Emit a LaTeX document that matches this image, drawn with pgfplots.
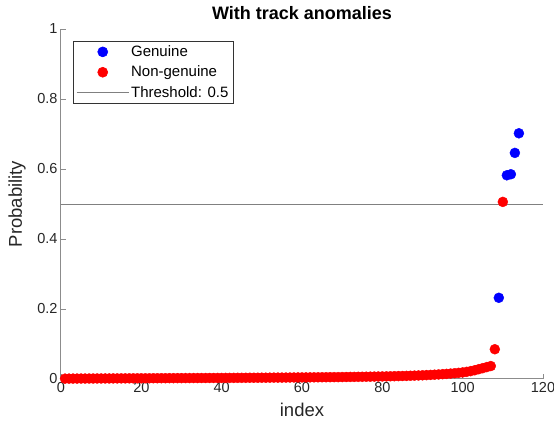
\documentclass[border=0pt]{standalone}
\usepackage{fontspec}
\setmainfont{Liberation Sans}
\usepackage{pgfplots}
\pgfplotsset{compat=1.18}
\definecolor{axgray}{RGB}{38,38,38}
\definecolor{thrgray}{RGB}{128,128,128}
\pgfplotsset{
  dotlegend/.style={legend image code/.code={\draw[mark repeat=2,mark phase=2,##1] plot coordinates {(0pt,0pt) (26pt,0pt) (52pt,0pt)};}},
  linelegend/.style={legend image code/.code={\draw[##1] (0pt,0pt) -- (52pt,0pt);}}
}
\begin{document}
\begin{tikzpicture}
\useasboundingbox (-61pt,-51pt) rectangle (493pt,379pt);
\begin{axis}[
  at={(0pt,0pt)}, anchor=south west,
  scale only axis,
  width=482pt, height=350pt,
  xmin=0, xmax=120, ymin=0, ymax=1,
  axis lines*=left,
  axis line style={color=black!45, line width=1pt},
  tick style={color=black!45, line width=0.8pt},
  tick align=inside,
  major tick length=5pt,
  xtick={0,20,...,120},
  ytick={0,0.2,0.4,0.6,0.8,1},
  yticklabels={0,0.2,0.4,0.6,0.8,1},
  /pgf/number format/assume math mode=true,
  tick label style={font=\fontsize{14.5}{16}\selectfont, color=axgray},
  xlabel={index},
  ylabel={Probability},
  label style={font=\fontsize{18.5}{20}\selectfont, color=axgray},
  xlabel style={at={(axis description cs:0.5,-0.089)}, anchor=center},
  ylabel style={at={(axis description cs:-0.091,0.5)}, anchor=center},
  title={With track anomalies},
  title style={font=\bfseries\fontsize{18}{20}\selectfont, at={(axis description cs:0.5,1.029)}, anchor=center},
  legend style={at={(axis description cs:0.025,0.966)}, anchor=north west,
    draw=black!80, line width=0.6pt, fill=white,
    font=\fontsize{15}{17}\selectfont, inner xsep=3pt, inner ysep=2.5pt,
    row sep=4pt, cells={anchor=west}},
  legend cell align=left,
]
\addplot[only marks, mark=*, mark size=5pt, color=blue, mark options={fill=blue, draw=blue}, dotlegend]
  coordinates {(109,0.232) (111,0.582) (112,0.585) (113,0.646) (114,0.702)};
\addlegendentry{Genuine}
\addplot[only marks, mark=*, mark size=5pt, color=red, mark options={fill=red, draw=red}, dotlegend]
  table {
x y
1 0.0010
2 0.0011
3 0.0012
4 0.0012
5 0.0013
6 0.0013
7 0.0014
8 0.0014
9 0.0015
10 0.0015
11 0.0016
12 0.0016
13 0.0017
14 0.0017
15 0.0018
16 0.0018
17 0.0019
18 0.0019
19 0.0020
20 0.0020
21 0.0021
22 0.0021
23 0.0022
24 0.0022
25 0.0023
26 0.0023
27 0.0024
28 0.0024
29 0.0025
30 0.0025
31 0.0026
32 0.0026
33 0.0027
34 0.0027
35 0.0028
36 0.0028
37 0.0029
38 0.0029
39 0.0030
40 0.0030
41 0.0031
42 0.0031
43 0.0032
44 0.0033
45 0.0033
46 0.0034
47 0.0035
48 0.0035
49 0.0036
50 0.0037
51 0.0037
52 0.0038
53 0.0039
54 0.0040
55 0.0040
56 0.0041
57 0.0042
58 0.0043
59 0.0044
60 0.0045
61 0.0046
62 0.0047
63 0.0048
64 0.0049
65 0.0050
66 0.0051
67 0.0052
68 0.0053
69 0.0054
70 0.0056
71 0.0057
72 0.0059
73 0.0060
74 0.0062
75 0.0063
76 0.0065
77 0.0067
78 0.0069
79 0.0071
80 0.0073
81 0.0075
82 0.0078
83 0.0080
84 0.0083
85 0.0086
86 0.0089
87 0.0093
88 0.0097
89 0.0101
90 0.0106
91 0.0111
92 0.0117
93 0.0123
94 0.0130
95 0.0138
96 0.0146
97 0.0155
98 0.0165
99 0.0176
100 0.0188
101 0.0205
102 0.0225
103 0.0250
104 0.0280
105 0.0310
106 0.0340
107 0.0370
108 0.0850
110 0.5060
};
\addlegendentry{Non-genuine}
\addplot[color=thrgray, line width=0.8pt, linelegend]
  coordinates {(0,0.5) (120,0.5)};
\addlegendentry{Threshold: 0.5}
\end{axis}
\end{tikzpicture}
\end{document}
